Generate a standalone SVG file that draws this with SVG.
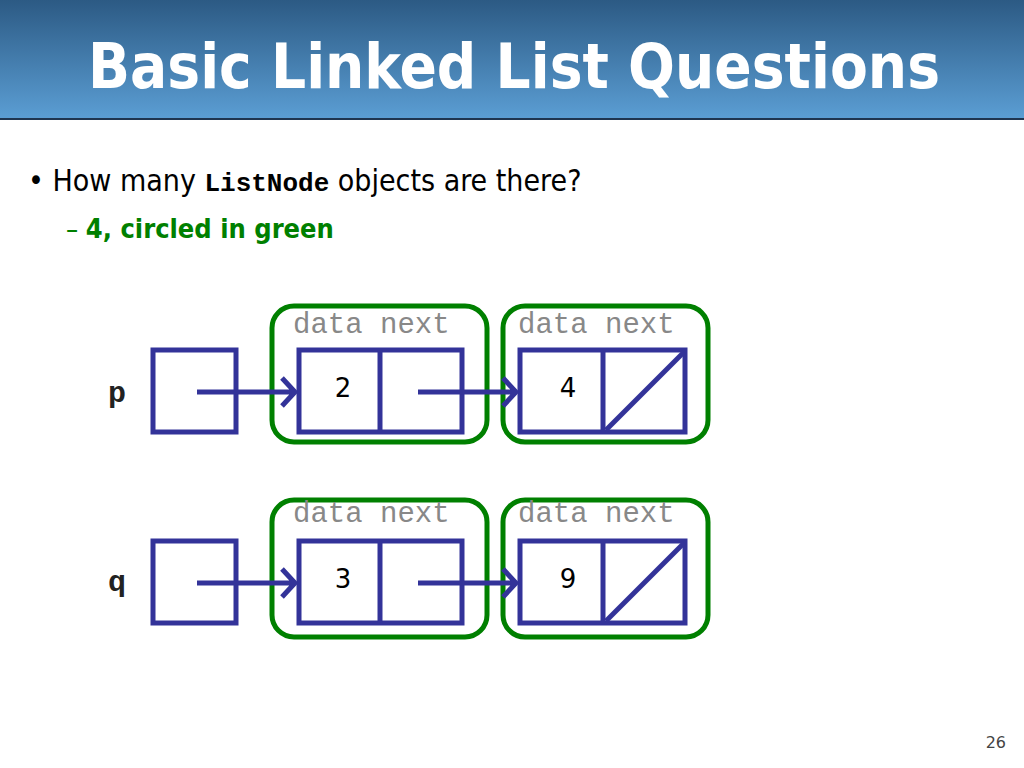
<svg xmlns="http://www.w3.org/2000/svg" width="1024" height="768" viewBox="0 0 1024 768">
<defs>
<linearGradient id="hg" x1="0" y1="0" x2="0" y2="1"><stop offset="0" stop-color="#2c5a84"/><stop offset="1" stop-color="#5b9ed4"/></linearGradient>
<marker id="ah" viewBox="0 0 12 12" refX="10" refY="6" markerWidth="5" markerHeight="5" orient="auto" markerUnits="userSpaceOnUse" overflow="visible"><path d="M-12,-14 L0,0 L-12,14" transform="translate(10,6)" fill="none" stroke="#333399" stroke-width="5"/></marker>
<style>
.b{fill:none;stroke:#333399;stroke-width:5}
.g{fill:none;stroke:#008000;stroke-width:5}
.lbl{font-family:"Liberation Mono",monospace;font-size:29px;fill:#888;}
.val{font-family:"DejaVu Sans",sans-serif;font-size:26px;fill:#000;text-anchor:middle}
.var{font-family:"Liberation Mono",monospace;font-weight:bold;font-size:30px;fill:#222}
.ar{stroke:#333399;stroke-width:5;fill:none}
</style>
</defs>
<rect width="1024" height="768" fill="#fff"/>
<rect x="0" y="0" width="1024" height="119" fill="url(#hg)"/>
<line x1="0" y1="119" x2="1024" y2="119" stroke="#1f3550" stroke-width="2"/>
<text x="514" y="88" text-anchor="middle" font-family="DejaVu Sans Condensed, DejaVu Sans, sans-serif" font-weight="bold" font-size="62" fill="#fff" textLength="852" lengthAdjust="spacingAndGlyphs">Basic Linked List Questions</text>
<text x="28" y="191" font-family="DejaVu Sans Condensed, DejaVu Sans, sans-serif" font-size="30" fill="#000">• How many <tspan font-family="Liberation Mono, monospace" font-weight="bold" font-size="26">ListNode</tspan> objects are there?</text>
<text x="66" y="238" font-family="DejaVu Sans Condensed, DejaVu Sans, sans-serif" font-size="27" fill="#008000">–  <tspan font-weight="bold">4, circled in green</tspan></text>
<g id="p"><text class="var" x="108" y="402">p</text><rect class="b" x="153" y="350" width="83" height="82"/></g>
<g id="q"><text class="var" x="108" y="591">q</text><rect class="b" x="153" y="541" width="83" height="82"/></g>
<g id="n2"><rect class="g" x="272" y="306" width="215" height="136" rx="22"/><text class="lbl" x="293" y="333">data next</text><rect class="b" x="299" y="350" width="163" height="82"/><line class="b" x1="380" y1="350" x2="380" y2="432"/><text class="val" x="343" y="397">2</text></g>
<g id="n4"><rect class="g" x="503" y="306" width="205" height="136" rx="22"/><text class="lbl" x="518" y="333">data next</text><rect class="b" x="520" y="350" width="165" height="82"/><line class="b" x1="603" y1="350" x2="603" y2="432"/><line class="b" x1="606" y1="430" x2="684" y2="352"/><text class="val" x="568" y="397">4</text></g>
<g id="n3"><rect class="g" x="272" y="500" width="215" height="137" rx="22"/><text class="lbl" x="293" y="522">data next</text><rect class="b" x="299" y="541" width="163" height="82"/><line class="b" x1="380" y1="541" x2="380" y2="623"/><text class="val" x="343" y="588">3</text></g>
<g id="n9"><rect class="g" x="503" y="500" width="205" height="137" rx="22"/><text class="lbl" x="518" y="522">data next</text><rect class="b" x="520" y="541" width="165" height="82"/><line class="b" x1="603" y1="541" x2="603" y2="623"/><line class="b" x1="606" y1="621" x2="684" y2="543"/><text class="val" x="568" y="588">9</text></g>
<g id="connectors">
<path class="ar" d="M197,392 H295 M282,378 L295,392 L282,406"/>
<path class="ar" d="M418,392 H516 M503,378 L516,392 L503,406"/>
<path class="ar" d="M197,583 H295 M282,569 L295,583 L282,597"/>
<path class="ar" d="M418,583 H516 M503,569 L516,583 L503,597"/>
</g>
<text x="1006" y="748" text-anchor="end" font-family="DejaVu Sans, sans-serif" font-size="16" fill="#444">26</text>
</svg>
